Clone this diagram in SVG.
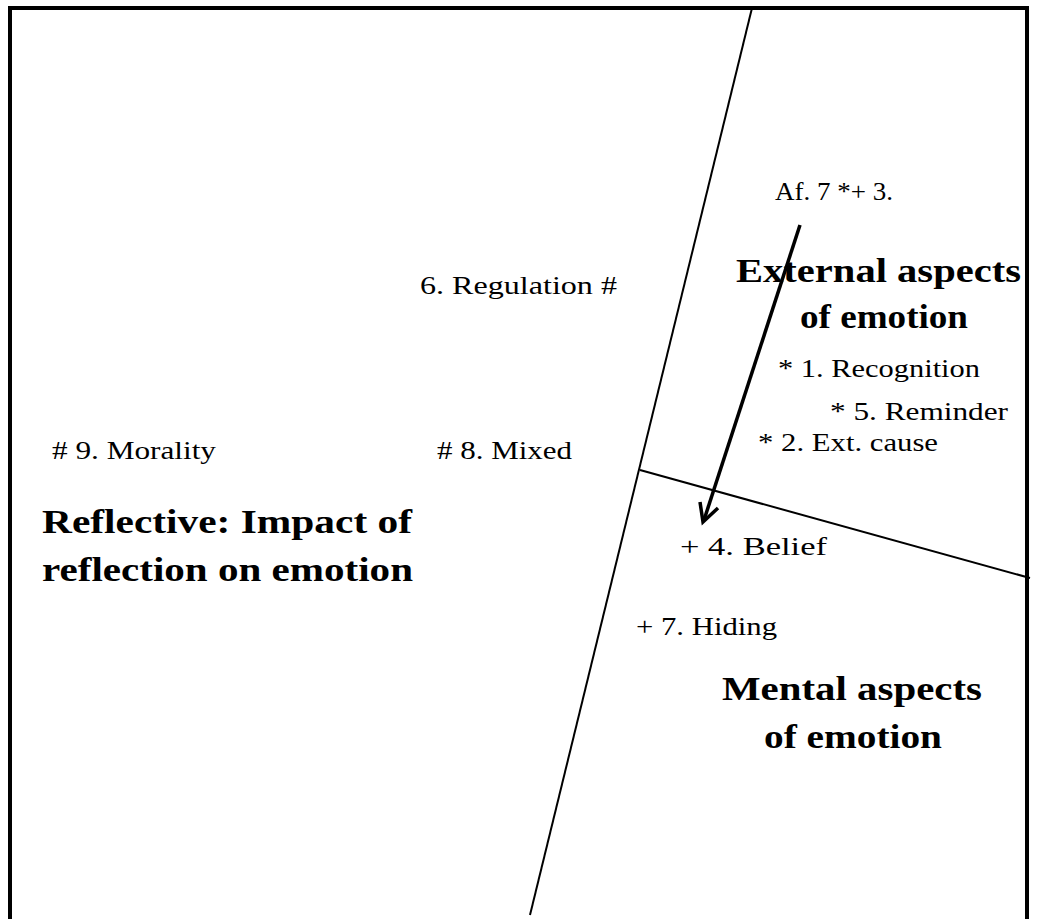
<svg xmlns="http://www.w3.org/2000/svg" width="1056" height="919" viewBox="0 0 1056 919">
<defs>
<style>
.t{font-family:"Liberation Serif",serif;font-size:25px;fill:#000}
.b{font-family:"Liberation Serif",serif;font-size:34px;font-weight:bold;fill:#000}
.ln{stroke:#000;stroke-width:2;fill:none}
</style>
</defs>
<rect x="0" y="0" width="1056" height="919" fill="#fff"/>
<rect x="10" y="8" width="1017" height="920" fill="none" stroke="#000" stroke-width="4"/>
<g id="connectors">
<line class="ln" x1="752" y1="8" x2="530" y2="915"/>
<line class="ln" x1="640" y1="470" x2="1030" y2="578"/>
<line x1="800" y1="225" x2="704" y2="520" stroke="#000" stroke-width="3.5"/>
<path d="M700,502 L703,522 L718,508" fill="none" stroke="#000" stroke-width="3.5"/>
</g>
<g id="af"><text class="t" x="775" y="200" textLength="118" lengthAdjust="spacingAndGlyphs">Af. 7 *+ 3.</text></g>
<g id="external"><text class="b" x="736" y="282" textLength="285" lengthAdjust="spacingAndGlyphs">External aspects</text><text class="b" x="800" y="328" textLength="168" lengthAdjust="spacingAndGlyphs">of emotion</text></g>
<g id="n1"><text class="t" x="778" y="377" textLength="202" lengthAdjust="spacingAndGlyphs">* 1. Recognition</text></g>
<g id="n5"><text class="t" x="830" y="420" textLength="178" lengthAdjust="spacingAndGlyphs">* 5. Reminder</text></g>
<g id="n2"><text class="t" x="758" y="451" textLength="180" lengthAdjust="spacingAndGlyphs">* 2. Ext. cause</text></g>
<g id="n6"><text class="t" x="420" y="294" textLength="197" lengthAdjust="spacingAndGlyphs">6. Regulation #</text></g>
<g id="n9"><text class="t" x="52" y="459" textLength="164" lengthAdjust="spacingAndGlyphs"># 9. Morality</text></g>
<g id="n8"><text class="t" x="437" y="459" textLength="135" lengthAdjust="spacingAndGlyphs"># 8. Mixed</text></g>
<g id="reflective"><text class="b" x="42" y="533" textLength="370" lengthAdjust="spacingAndGlyphs">Reflective: Impact of</text><text class="b" x="42" y="581" textLength="371" lengthAdjust="spacingAndGlyphs">reflection on emotion</text></g>
<g id="n4"><text class="t" x="680" y="555" textLength="147" lengthAdjust="spacingAndGlyphs">+ 4. Belief</text></g>
<g id="n7"><text class="t" x="636" y="635" textLength="141" lengthAdjust="spacingAndGlyphs">+ 7. Hiding</text></g>
<g id="mental"><text class="b" x="722" y="700" textLength="260" lengthAdjust="spacingAndGlyphs">Mental aspects</text><text class="b" x="764" y="748" textLength="178" lengthAdjust="spacingAndGlyphs">of emotion</text></g>
</svg>
